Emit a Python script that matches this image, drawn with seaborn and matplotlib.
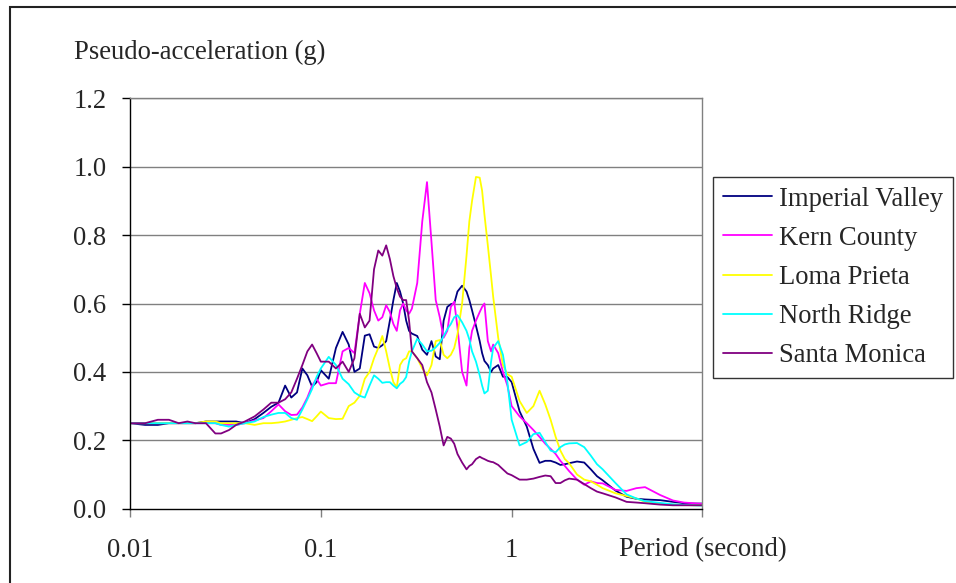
import numpy as np
import pandas as pd
import matplotlib
matplotlib.use("Agg")
import matplotlib.pyplot as plt
from matplotlib.patches import Rectangle
from matplotlib.ticker import NullLocator, FixedLocator
import seaborn as sns

# Response spectra periods (s), shared by all records
periods = [
    0.01, 0.012, 0.014, 0.016, 0.018, 0.02, 0.022, 0.025, 0.028, 0.03,
    0.033, 0.036, 0.04, 0.045, 0.05, 0.055, 0.06, 0.065, 0.07, 0.075,
    0.08, 0.085, 0.09, 0.095, 0.10, 0.11, 0.12, 0.13, 0.14, 0.15,
    0.16, 0.17, 0.18, 0.19, 0.20, 0.21, 0.22, 0.23, 0.24, 0.25,
    0.26, 0.27, 0.28, 0.29, 0.30, 0.32, 0.34, 0.36, 0.38, 0.40,
    0.42, 0.44, 0.46, 0.48, 0.50, 0.52, 0.55, 0.58, 0.60, 0.62,
    0.65, 0.68, 0.70, 0.72, 0.75, 0.78, 0.80, 0.85, 0.90, 0.95,
    1.0, 1.1, 1.2, 1.3, 1.4, 1.5, 1.6, 1.7, 1.8, 1.9,
    2.0, 2.2, 2.4, 2.6, 2.8, 3.0, 3.5, 4.0, 4.5, 5.0,
    6.0, 7.0, 8.0, 9.0, 10.0,
]

# Pseudo-acceleration (g) for each record
imperial_valley = [
    0.25, 0.245, 0.245, 0.25, 0.25, 0.25, 0.25, 0.255, 0.255, 0.255,
    0.255, 0.255, 0.25, 0.262, 0.28, 0.298, 0.31, 0.36, 0.325, 0.34,
    0.41, 0.39, 0.357, 0.37, 0.405, 0.38, 0.47, 0.517, 0.48, 0.40,
    0.41, 0.506, 0.51, 0.474, 0.47, 0.478, 0.49, 0.55, 0.61, 0.66,
    0.635, 0.60, 0.55, 0.52, 0.512, 0.505, 0.465, 0.45, 0.49, 0.445,
    0.437, 0.55, 0.59, 0.598, 0.60, 0.635, 0.652, 0.635, 0.61, 0.58,
    0.535, 0.49, 0.455, 0.432, 0.42, 0.40, 0.41, 0.42, 0.386, 0.385,
    0.37, 0.285, 0.24, 0.175, 0.134, 0.14, 0.14, 0.135, 0.128, 0.13,
    0.133, 0.138, 0.135, 0.115, 0.095, 0.083, 0.053, 0.035, 0.029, 0.027,
    0.025, 0.02, 0.016, 0.015, 0.015,
]
kern_county = [
    0.25, 0.25, 0.25, 0.25, 0.25, 0.25, 0.25, 0.25, 0.25, 0.245,
    0.245, 0.245, 0.25, 0.258, 0.265, 0.285, 0.305, 0.285, 0.274, 0.275,
    0.296, 0.325, 0.36, 0.38, 0.36, 0.367, 0.367, 0.46, 0.47, 0.455,
    0.57, 0.66, 0.63, 0.58, 0.55, 0.56, 0.595, 0.575, 0.54, 0.52,
    0.58, 0.60, 0.58, 0.57, 0.585, 0.66, 0.84, 0.955, 0.78, 0.61,
    0.56, 0.50, 0.52, 0.59, 0.605, 0.53, 0.40, 0.36, 0.47, 0.52,
    0.55, 0.575, 0.59, 0.60, 0.49, 0.46, 0.48, 0.455, 0.40, 0.36,
    0.30, 0.27, 0.25, 0.23, 0.21, 0.19, 0.175, 0.16, 0.14, 0.125,
    0.11, 0.085, 0.07, 0.08, 0.075, 0.074, 0.055, 0.052, 0.06, 0.063,
    0.04, 0.024, 0.018, 0.016, 0.014,
]
loma_prieta = [
    0.25, 0.25, 0.25, 0.25, 0.25, 0.25, 0.25, 0.255, 0.255, 0.25,
    0.25, 0.25, 0.25, 0.245, 0.25, 0.25, 0.252, 0.255, 0.26, 0.265,
    0.268, 0.262, 0.256, 0.27, 0.284, 0.265, 0.262, 0.263, 0.30, 0.31,
    0.33, 0.38, 0.40, 0.44, 0.47, 0.505, 0.46, 0.41, 0.37, 0.355,
    0.42, 0.435, 0.44, 0.46, 0.46, 0.44, 0.41, 0.39, 0.42, 0.49,
    0.493, 0.45, 0.44, 0.45, 0.47, 0.51, 0.60, 0.74, 0.84, 0.90,
    0.97, 0.968, 0.93, 0.86, 0.77, 0.68, 0.62, 0.50, 0.42, 0.393,
    0.386, 0.315, 0.28, 0.30, 0.345, 0.305, 0.26, 0.21, 0.17, 0.145,
    0.133, 0.10, 0.085, 0.08, 0.07, 0.06, 0.045, 0.037, 0.03, 0.02,
    0.014, 0.012, 0.011, 0.01, 0.01,
]
north_ridge = [
    0.25, 0.25, 0.25, 0.25, 0.25, 0.25, 0.25, 0.25, 0.25, 0.245,
    0.24, 0.245, 0.25, 0.255, 0.268, 0.275, 0.28, 0.28, 0.265, 0.26,
    0.29, 0.32, 0.35, 0.385, 0.41, 0.444, 0.42, 0.38, 0.364, 0.34,
    0.33, 0.325, 0.36, 0.39, 0.38, 0.368, 0.37, 0.37, 0.36, 0.352,
    0.365, 0.372, 0.385, 0.43, 0.46, 0.497, 0.48, 0.46, 0.462, 0.472,
    0.485, 0.505, 0.525, 0.54, 0.56, 0.566, 0.545, 0.52, 0.495, 0.46,
    0.43, 0.39, 0.36, 0.337, 0.345, 0.43, 0.47, 0.49, 0.45, 0.37,
    0.26, 0.185, 0.195, 0.218, 0.222, 0.195, 0.17, 0.165, 0.18, 0.188,
    0.191, 0.192, 0.18, 0.155, 0.13, 0.115, 0.075, 0.042, 0.03, 0.022,
    0.017, 0.013, 0.011, 0.01, 0.009,
]
santa_monica = [
    0.25, 0.25, 0.26, 0.26, 0.25, 0.255, 0.25, 0.25, 0.22, 0.22,
    0.23, 0.245, 0.255, 0.27, 0.29, 0.31, 0.31, 0.32, 0.34, 0.38,
    0.42, 0.46, 0.48, 0.455, 0.43, 0.43, 0.41, 0.43, 0.40, 0.44,
    0.57, 0.53, 0.55, 0.70, 0.755, 0.74, 0.77, 0.73, 0.68, 0.645,
    0.62, 0.61, 0.61, 0.55, 0.46, 0.44, 0.42, 0.37, 0.34, 0.29,
    0.24, 0.185, 0.21, 0.205, 0.19, 0.16, 0.135, 0.115, 0.125, 0.13,
    0.145, 0.152, 0.148, 0.145, 0.14, 0.137, 0.136, 0.128, 0.115, 0.103,
    0.098, 0.085, 0.085, 0.088, 0.093, 0.097, 0.095, 0.075, 0.075, 0.083,
    0.088, 0.085, 0.072, 0.06, 0.05, 0.045, 0.033, 0.02, 0.018, 0.016,
    0.012, 0.01, 0.01, 0.01, 0.01,
]

records = ["Imperial Valley", "Kern County", "Loma Prieta", "North Ridge", "Santa Monica"]
colors = ["#000080", "#FF00FF", "#FFFF00", "#00FFFF", "#800080"]
series = [imperial_valley, kern_county, loma_prieta, north_ridge, santa_monica]

y_ticks = [0.0, 0.2, 0.4, 0.6, 0.8, 1.0, 1.2]
x_tick_labels = ["0.01", "0.1", "1"]

df = pd.concat(
    [pd.DataFrame({"Period": periods, "Sa": vals, "Record": name})
     for name, vals in zip(records, series)],
    ignore_index=True,
)

sns.set_style("white")
plt.rcParams["font.family"] = ["Liberation Serif", "DejaVu Serif"]
FS = 19.2
FS_LEG = 19.2

W, H = 956, 583
fig = plt.figure(figsize=(W / 100, H / 100), dpi=100)
ax = fig.add_axes([130 / W, 1 - 508.7 / H, (702.5 - 130) / W, (508.7 - 98.3) / H])

sns.lineplot(
    data=df, x="Period", y="Sa", hue="Record", hue_order=records,
    palette=dict(zip(records, colors)), estimator=None, sort=False,
    linewidth=1.3, ax=ax, legend=False,
)

ax.set_xscale("log")
ax.set_xlim(0.01, 10)
ax.set_ylim(0, 1.2)
ax.xaxis.set_major_locator(FixedLocator([0.01, 0.1, 1, 10]))
ax.set_xticklabels(x_tick_labels + [""])
ax.xaxis.set_minor_locator(NullLocator())
ax.set_yticks(y_ticks)
ax.set_yticklabels([f"{v:.1f}" for v in y_ticks])

for v in y_ticks[1:]:
    ax.axhline(v, color="#808080", lw=1.0, zorder=0)

for side in ("top", "right"):
    ax.spines[side].set_color("#808080")
    ax.spines[side].set_linewidth(1.0)
for side in ("left", "bottom"):
    ax.spines[side].set_color("black")
    ax.spines[side].set_linewidth(1.0)

ax.tick_params(axis="y", direction="out", length=6, width=1, pad=11,
               labelsize=FS, left=True, color="black")
ax.tick_params(axis="x", direction="out", length=6, width=1, pad=15,
               labelsize=FS, bottom=True, color="#808080")

ax.set_xlabel("Period (second)", fontsize=FS)
ax.xaxis.set_label_coords(1.0, -0.1)
ax.xaxis.label.set_verticalalignment("center")
ax.xaxis.label.set_horizontalalignment("center")
ax.set_ylabel("")

fig.text(74 / W, 1 - 52 / H, "Pseudo-acceleration (g)", fontsize=FS,
         ha="left", va="center")

handles = [plt.Line2D([], [], color=c, lw=1.3) for c in colors]
leg = fig.legend(
    handles, records, loc="upper left",
    bbox_to_anchor=(713 / W, 1 - 177 / H), fontsize=FS_LEG,
    frameon=True, fancybox=False, borderpad=0.36, labelspacing=0.53,
    handlelength=1.85, handletextpad=0.28, borderaxespad=0,
)
leg.get_frame().set_edgecolor("black")
leg.get_frame().set_linewidth(1.0)

# outer chart-area border
fig.patches.append(Rectangle((10 / W, -0.05), 1.0, 1 - 7 / H + 0.05,
                             transform=fig.transFigure, fill=False,
                             edgecolor="#222222", lw=1.5, clip_on=False))

fig.savefig("out.png", dpi=100)
